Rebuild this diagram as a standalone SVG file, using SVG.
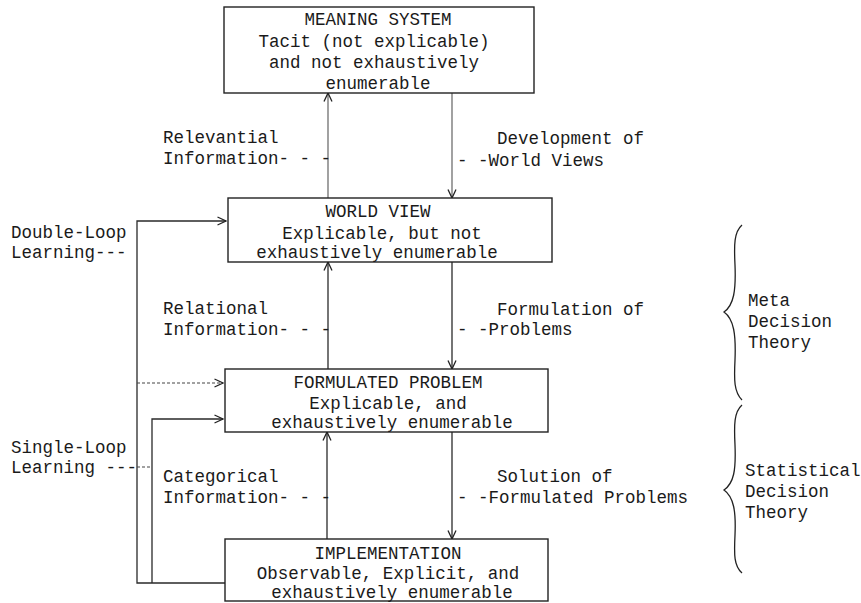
<svg xmlns="http://www.w3.org/2000/svg" width="861" height="603" viewBox="0 0 861 603">
<defs>
<style>
text{font-family:"Liberation Mono","Courier New",monospace;font-size:17.5px;fill:#1a1a1a}
.c{text-anchor:middle}
.box{fill:#fff;stroke:#222;stroke-width:1.4}
.ln{fill:none;stroke:#2a2a2a;stroke-width:1.3}
.lt{fill:none;stroke:#555;stroke-width:1.1}
.dl{fill:none;stroke:#444;stroke-width:1.1;stroke-dasharray:3 2}
.br{fill:none;stroke:#222;stroke-width:1.3}
</style>
<marker id="ah" viewBox="0 0 10 10" refX="9.5" refY="5" markerWidth="10" markerHeight="10" markerUnits="userSpaceOnUse" orient="auto">
<path d="M1,1 L9.5,5 L1,9" fill="none" stroke="#222" stroke-width="1.3"/>
</marker>
</defs>
<rect width="861" height="603" fill="#fff"/>

<g id="connectors">
<line class="lt" x1="328" y1="198" x2="328" y2="93" marker-end="url(#ah)"/>
<line class="lt" x1="452" y1="93" x2="452" y2="198" marker-end="url(#ah)"/>
<line class="ln" x1="328" y1="369" x2="328" y2="262" marker-end="url(#ah)"/>
<line class="ln" x1="452" y1="262" x2="452" y2="369" marker-end="url(#ah)"/>
<line class="ln" x1="327" y1="539" x2="327" y2="432" marker-end="url(#ah)"/>
<line class="ln" x1="452" y1="432" x2="452" y2="539" marker-end="url(#ah)"/>
<polyline class="ln" points="225,583 137,583 137,221 226,221" marker-end="url(#ah)"/>
<line class="dl" x1="137" y1="383" x2="223" y2="383" marker-end="url(#ah)"/>
<polyline class="ln" points="152,583 152,419 223,419" marker-end="url(#ah)"/>
<line class="dl" x1="137" y1="467" x2="152" y2="467"/>
</g>

<g id="meaning-system">
<rect class="box" x="224" y="7" width="310" height="86"/>
<text class="c" x="378" y="25">MEANING SYSTEM</text>
<text class="c" x="374" y="47">Tacit (not explicable)</text>
<text class="c" x="374" y="68">and not exhaustively</text>
<text class="c" x="378" y="89">enumerable</text>
</g>

<g id="world-view">
<rect class="box" x="228" y="198" width="324" height="64"/>
<text class="c" x="378" y="217">WORLD VIEW</text>
<text class="c" x="382" y="239">Explicable, but not</text>
<text class="c" x="377" y="258">exhaustively enumerable</text>
</g>

<g id="formulated-problem">
<rect class="box" x="225" y="369" width="323" height="63"/>
<text class="c" x="388" y="388">FORMULATED PROBLEM</text>
<text class="c" x="388" y="409">Explicable, and</text>
<text class="c" x="392" y="428">exhaustively enumerable</text>
</g>

<g id="implementation">
<rect class="box" x="225" y="539" width="323" height="62"/>
<text class="c" x="388" y="559">IMPLEMENTATION</text>
<text class="c" x="388" y="579">Observable, Explicit, and</text>
<text class="c" x="392" y="598">exhaustively enumerable</text>
</g>

<g id="labels">
<text x="163" y="143">Relevantial</text>
<text x="163" y="164">Information- - -</text>
<text x="497" y="144">Development of</text>
<text x="457" y="166">- -World Views</text>
<text x="11" y="238">Double-Loop</text>
<text x="11" y="258">Learning---</text>
<text x="163" y="314">Relational</text>
<text x="163" y="335">Information- - -</text>
<text x="497" y="315">Formulation of</text>
<text x="457" y="335">- -Problems</text>
<text x="11" y="453">Single-Loop</text>
<text x="11" y="473">Learning ---</text>
<text x="163" y="482">Categorical</text>
<text x="163" y="503">Information- - -</text>
<text x="497" y="482">Solution of</text>
<text x="457" y="503">- -Formulated Problems</text>
</g>

<g id="meta-decision-theory">
<path class="br" d="M742,225 C734,232 734,245 735,265 C736,290 734,305 724,312 C734,319 736,335 735,360 C734,380 734,392 742,400"/>
<text x="748" y="306">Meta</text>
<text x="748" y="327">Decision</text>
<text x="748" y="348">Theory</text>
</g>

<g id="statistical-decision-theory">
<path class="br" d="M742,405 C734,412 734,425 735,445 C736,470 734,483 724,490 C734,497 736,512 735,535 C734,555 734,566 742,573"/>
<text x="745" y="476">Statistical</text>
<text x="745" y="497">Decision</text>
<text x="745" y="518">Theory</text>
</g>
</svg>
